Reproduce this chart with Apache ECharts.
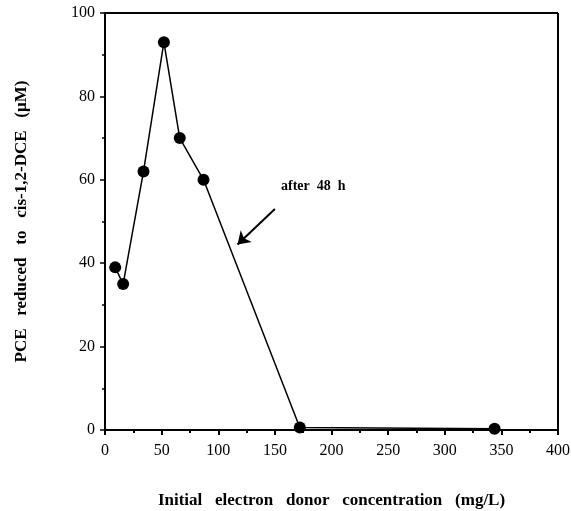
<!DOCTYPE html>
<html>
<head>
<meta charset="utf-8">
<script src="https://cdn.jsdelivr.net/npm/echarts@6/dist/echarts.min.js"></script>
<style>
  html, body { margin: 0; padding: 0; background: #fff; }
  #chart { width: 571px; height: 511px; }
</style>
</head>
<body>
<div id="chart"></div>
<script>
// data
const donorConc = [9, 16, 34, 52, 66, 87, 172, 344];
const pceReduced = [39, 35, 62, 93, 70, 60, 0.6, 0.3];
const xTicks = [0, 50, 100, 150, 200, 250, 300, 350, 400];
const yTicks = [0, 20, 40, 60, 80, 100];
const arrowFrom = [150, 53];
const arrowTo = [117, 44.5];
const noteText = 'after  48  h';

const serif = '"Liberation Serif", "DejaVu Serif", serif';

let chart = echarts.init(document.getElementById('chart'));

let option = {
  animation: false,
  backgroundColor: '#fff',
  grid: { left: 105, right: 13, top: 13, bottom: 81, show: false, outerBoundsMode: 'none' },
  xAxis: {
    type: 'value',
    min: xTicks[0],
    max: xTicks[xTicks.length - 1],
    interval: 50,
    name: 'Initial   electron   donor   concentration   (mg/L)',
    nameLocation: 'middle',
    nameGap: 62,
    nameTextStyle: { fontFamily: serif, fontWeight: 'bold', fontSize: 17, color: '#000' },
    axisLine: { lineStyle: { color: '#000', width: 2 } },
    axisTick: { lineStyle: { color: '#000', width: 2 }, length: 5 },
    minorTick: { show: true, splitNumber: 2, length: 3, lineStyle: { color: '#000', width: 2 } },
    axisLabel: { fontFamily: serif, fontSize: 16, color: '#000', margin: 13 },
    splitLine: { show: false }
  },
  yAxis: {
    type: 'value',
    min: yTicks[0],
    max: yTicks[yTicks.length - 1],
    interval: 20,
    name: 'PCE   reduced   to   cis-1,2-DCE   (\u00b5M)',
    nameLocation: 'middle',
    nameGap: 75,
    nameTextStyle: { fontFamily: serif, fontWeight: 'bold', fontSize: 17, color: '#000' },
    axisLine: { lineStyle: { color: '#000', width: 2 } },
    axisTick: { lineStyle: { color: '#000', width: 1.5 }, length: 5 },
    minorTick: { show: true, splitNumber: 2, length: 3, lineStyle: { color: '#000', width: 1.5 } },
    axisLabel: { fontFamily: serif, fontSize: 16, color: '#000', margin: 10 },
    splitLine: { show: false }
  },
  series: [
    {
      type: 'line',
      data: donorConc.map((x, i) => [x, pceReduced[i]]),
      symbol: 'circle',
      symbolSize: 12,
      itemStyle: { color: '#000' },
      lineStyle: { color: '#000', width: 1.5 },
      z: 5,
      markLine: {
        silent: true,
        symbol: ['none', 'arrow'],
        symbolSize: 12,
        lineStyle: { color: '#000', width: 2, type: 'solid' },
        label: { show: false },
        data: [[{ coord: arrowFrom }, { coord: arrowTo }]]
      }
    }
  ],
  graphic: [
    // box: top and right edges
    { type: 'line', shape: { x1: 105, y1: 13, x2: 558, y2: 13 }, style: { stroke: '#000', lineWidth: 2 } },
    { type: 'line', shape: { x1: 558, y1: 13, x2: 558, y2: 430 }, style: { stroke: '#000', lineWidth: 2 } },
    {
      type: 'text', left: 281, top: 179,
      style: { text: noteText, font: 'bold 14px ' + serif, fill: '#000' }
    }
  ]
};

chart.setOption(option);
</script>
</body>
</html>
